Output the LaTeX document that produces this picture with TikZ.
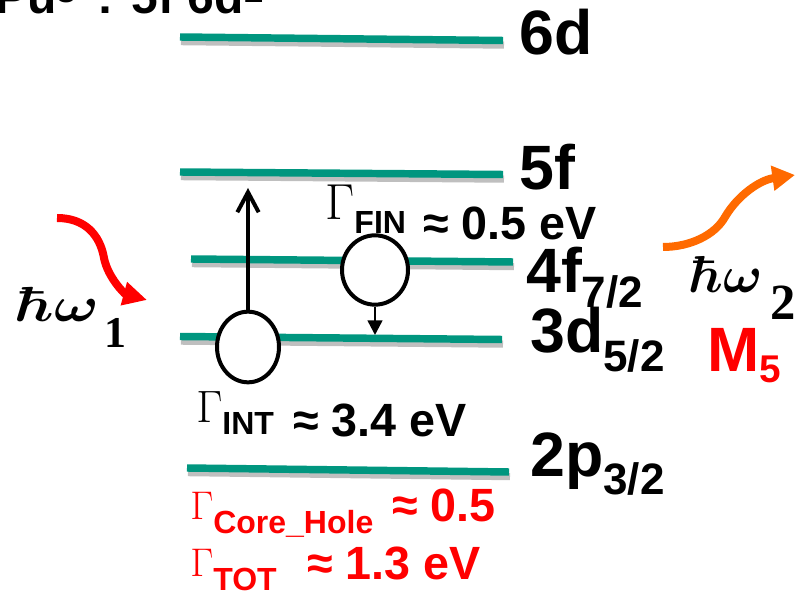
\RequirePackage{fix-cm}
\documentclass[tikz,border=0pt]{standalone}
\usepackage{amsmath}
\usepackage[no-math]{fontspec}
\setmainfont{Liberation Sans}
\newfontfamily\serifnum{Liberation Serif}
\usetikzlibrary{arrows.meta, shapes.geometric}
\definecolor{level-green}{HTML}{00967F}
\definecolor{hot-red}{HTML}{FF0000}
\definecolor{emit-orange}{HTML}{FF6A00}
\newcommand{\fsz}[1]{\fontsize{#1}{#1}\selectfont}

\begin{document}
\begin{tikzpicture}[x=0.75pt, y=-0.75pt,
  every node/.style={inner sep=0pt, anchor=base west, font=\bfseries},
  level/.style={line width=5.6pt, color=level-green},
  levelshade/.style={line width=5.6pt, color=black!25},
  hole/.style={draw, ellipse, fill=white, line width=3pt, anchor=center},
  photon/.style={line width=6pt}]
  \useasboundingbox (0,0) rectangle (808,591);
  \foreach \xa/\ya/\xb/\yb in {180/37/503/40.5, 180/172/503/174.5,
      191/259/513/262, 180/336.5/502/339.5, 187/468/509/472} {
    \draw[levelshade] (\xa+1,\ya+4.5) -- (\xb+1,\yb+4.5);
    \draw[level] (\xa,\ya) -- (\xb,\yb);
  }
  \node[hole, minimum width=46.5pt, minimum height=53pt] (c1) at (248,347) {};
  \node[hole, minimum width=49.5pt, minimum height=52pt] (c2) at (375,270) {};
  \coordinate (uptip) at (248,188);
  \coordinate (dntip) at (375,335);
  \draw[line width=2.4pt, -{Straight Barb[length=15pt, width=16pt, line width=3pt]}] (c1.north) -- (uptip);
  \draw[line width=1.9pt, -{Triangle[length=11pt, width=11pt]}] (c2.south) -- (dntip);
  \coordinate (in0) at (57,218);
  \coordinate (in1) at (147,300);
  \draw[photon, hot-red, -{Triangle[length=18pt, width=17pt]}] (in0)
    .. controls (85,218) and (100,235) .. (104,258)
    .. controls (108,278) and (125,294) .. (in1);
  \coordinate (out0) at (663,247);
  \coordinate (out1) at (795,175);
  \draw[photon, emit-orange, -{Triangle[length=17pt, width=18pt]}] (out0)
    .. controls (690,247) and (715,235) .. (725,217)
    .. controls (738,195) and (760,180) .. (out1);
  \node (config) at (-5,14) {\fsz{36}Pu\raisebox{8.5pt}{\fsz{27}3+}: 5f 6d\raisebox{8.5pt}{\fsz{27}1}};
  \node (t6d) at (519,55) {\fsz{47}6d};
  \node (t5f) at (519,190) {\fsz{47}5f};
  \node (t4f) at (526,293) {\fsz{47}4f\raisebox{-11pt}{\fsz{33}7/2}};
  \node (t3d) at (530,353) {\fsz{47}3d\raisebox{-14pt}{\fsz{33}5/2}};
  \node (t2p) at (530,477) {\fsz{47}2p\raisebox{-13.5pt}{\fsz{33}3/2}};
  \node[text=hot-red] (tm5) at (707,372) {\fsz{47}M\raisebox{-8pt}{\fsz{29}5}};
  \node (hw1) at (15,322) {\scalebox{1.2}[1]{\fsz{37}$\boldsymbol{\hbar\omega}$}\hspace{4pt}\raisebox{-19.5pt}{\serifnum\bfseries\fsz{33}1}};
  \node (hw2) at (689,293) {\fsz{39}$\boldsymbol{\hbar\omega}$\hspace{6pt}\raisebox{-20pt}{\serifnum\bfseries\fsz{38}2}};
  \node (gfin) at (325,220) {\fsz{38}$\Gamma$\raisebox{-10pt}{\fsz{24}FIN}};
  \node (vfin) at (423,240) {\fsz{35}≈ 0.5 eV};
  \node (gint) at (196,423) {\fsz{34}$\Gamma$\raisebox{-9pt}{\fsz{24}INT}};
  \node (vint) at (293,437) {\fsz{35}≈ 3.4 eV};
  \node[text=hot-red] (gcore) at (190,520) {\fsz{30}$\Gamma$\raisebox{-10pt}{\fsz{24}Core\_Hole}};
  \node[text=hot-red] (vcore) at (392,522) {\fsz{35}≈ 0.5};
  \node[text=hot-red] (gtot) at (190,577) {\fsz{30}$\Gamma$\raisebox{-10pt}{\fsz{24}TOT}};
  \node[text=hot-red] (vtot) at (307,580) {\fsz{35}≈ 1.3 eV};
\end{tikzpicture}
\end{document}
